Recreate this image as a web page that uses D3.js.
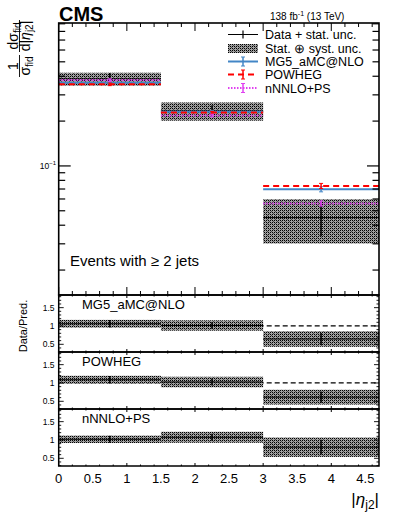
<!DOCTYPE html>
<html><head><meta charset="utf-8">
<script src="https://cdn.jsdelivr.net/npm/d3@7/dist/d3.min.js"></script>
<style>
html,body{margin:0;padding:0;background:#fff;}
text{font-family:"Liberation Sans",Arial,Helvetica,sans-serif;}
</style>
</head><body>
<script>
// ---------------- data ----------------
const binEdges = [0, 1.5, 3, 4.7];
const dataVals = [0.384, 0.234, 0.045];
const statRel = [0.095, 0.09, 0.25];
const totRel  = [0.10, 0.14, 0.33];
const mg5Vals = [0.362, 0.231, 0.0698];
const powhegVals = [0.353, 0.228, 0.0734];
const nnloVals = [0.377, 0.218, 0.056];
const theoRel = [0.02, 0.02, 0.04];
const xTickLabels = ["0","0.5","1","1.5","2","2.5","3","3.5","4","4.5"];
const ratioTickLabels = ["0.5","1","1.5"];
const predNames = ["MG5_aMC@NLO","POWHEG","nNNLO+PS"];
const legendLabels = ["Data + stat. unc.","Stat. \u2295 syst. unc.","MG5_aMC@NLO","POWHEG","nNNLO+PS"];

const W = 399, H = 518;
const svg = d3.select("body").append("svg").attr("width", W).attr("height", H);
svg.append("rect").attr("width",W).attr("height",H).attr("fill","#fff");

const defs = svg.append("defs");
const pat = defs.append("pattern").attr("id","band").attr("patternUnits","userSpaceOnUse")
  .attr("width",4).attr("height",4);
pat.append("rect").attr("width",4).attr("height",4).attr("fill","#a0a0a0");
[[0,0],[2,0],[0,2],[2,2]].forEach(p=>pat.append("rect").attr("x",p[0]).attr("y",p[1]).attr("width",1).attr("height",1).attr("fill","#000"));
[[1,1],[3,3]].forEach(p=>pat.append("rect").attr("x",p[0]).attr("y",p[1]).attr("width",1).attr("height",1).attr("fill","#4a4a4a"));

const L = 58.7, R = 379;
const x = d3.scaleLinear().domain([0, 4.7]).range([L, R]);
const mainTop = 23, mainBot = 295;
const y = d3.scaleLog().domain([0.0136, 0.911]).range([mainBot, mainTop]);
const panels = [[295,352],[352,409],[409,466]];

const colors = {mg5:"#4386c6", pow:"#ff0000", nnlo:"#e040f0"};
const preds = [
  {vals: mg5Vals, color: colors.mg5, dash: null},
  {vals: powhegVals, color: colors.pow, dash: "6,4"},
  {vals: nnloVals, color: colors.nnlo, dash: "1.5,1.5"}
];
const bins = d3.range(dataVals.length).map(i => ({lo: binEdges[i], hi: binEdges[i+1], c: (binEdges[i]+binEdges[i+1])/2}));

// ---------------- main panel ----------------
const gm = svg.append("g");
gm.selectAll("rect.band").data(bins).join("rect")
  .attr("x", d => x(d.lo)).attr("width", d => x(d.hi)-x(d.lo))
  .attr("y", (d,i) => y(dataVals[i]*(1+totRel[i])))
  .attr("height", (d,i) => y(dataVals[i]*(1-totRel[i])) - y(dataVals[i]*(1+totRel[i])))
  .attr("fill","url(#band)");
bins.forEach((b,i) => {
  gm.append("line").attr("x1",x(b.lo)).attr("x2",x(b.hi)).attr("y1",y(dataVals[i])).attr("y2",y(dataVals[i]))
    .attr("stroke","#000").attr("stroke-width",1);
  gm.append("line").attr("x1",x(b.c)).attr("x2",x(b.c))
    .attr("y1",y(dataVals[i]*(1-statRel[i]))).attr("y2",y(dataVals[i]*(1+statRel[i])))
    .attr("stroke","#000").attr("stroke-width",1.5);
});
preds.forEach(p => {
  bins.forEach((b,i) => {
    const yy = y(p.vals[i]);
    const ln = gm.append("line").attr("x1",x(b.lo)).attr("x2",x(b.hi)).attr("y1",yy).attr("y2",yy)
      .attr("stroke",p.color).attr("stroke-width",2);
    if (p.dash) ln.attr("stroke-dasharray",p.dash);
    const y1 = y(p.vals[i]*(1+theoRel[i])), y2 = y(p.vals[i]*(1-theoRel[i]));
    gm.append("line").attr("x1",x(b.c)).attr("x2",x(b.c)).attr("y1",y1).attr("y2",y2).attr("stroke",p.color).attr("stroke-width",1.5);
    gm.append("line").attr("x1",x(b.c)-2).attr("x2",x(b.c)+2).attr("y1",y1).attr("y2",y1).attr("stroke",p.color).attr("stroke-width",1);
    gm.append("line").attr("x1",x(b.c)-2).attr("x2",x(b.c)+2).attr("y1",y2).attr("y2",y2).attr("stroke",p.color).attr("stroke-width",1);
  });
});

function xTicks(g, top, bot, maj, mnr) {
  const minors = d3.range(0, 4.71, 0.2).map(v => +v.toFixed(1));
  minors.forEach(v => {
    const isMaj = Math.abs(v - Math.round(v)) < 1e-6;
    const len = isMaj ? maj : mnr;
    g.append("line").attr("x1",x(v)).attr("x2",x(v)).attr("y1",bot).attr("y2",bot-len).attr("stroke","#000").attr("stroke-width",1);
    g.append("line").attr("x1",x(v)).attr("x2",x(v)).attr("y1",top).attr("y2",top+len).attr("stroke","#000").attr("stroke-width",1);
  });
}
const mainTicks = [];
[0.02,0.03,0.04,0.05,0.06,0.07,0.08,0.09,0.1,0.2,0.3,0.4,0.5,0.6,0.7,0.8,0.9].forEach(v => {
  if (y(v) >= mainTop && y(v) <= mainBot) mainTicks.push(v);
});
mainTicks.forEach(v => {
  const len = (v === 0.1) ? 12 : 6.5;
  gm.append("line").attr("x1",L).attr("x2",L+len).attr("y1",y(v)).attr("y2",y(v)).attr("stroke","#000").attr("stroke-width",1.2);
  gm.append("line").attr("x1",R).attr("x2",R-len).attr("y1",y(v)).attr("y2",y(v)).attr("stroke","#000").attr("stroke-width",1.2);
});
xTicks(gm, mainTop, mainBot, 8, 4);
gm.append("rect").attr("x",L).attr("y",mainTop).attr("width",R-L).attr("height",mainBot-mainTop)
  .attr("fill","none").attr("stroke","#000").attr("stroke-width",1.6);
const t10 = gm.append("text").attr("x",56).attr("y",y(0.1)+3).attr("text-anchor","end").attr("font-size",8.5).attr("fill","#000");
t10.append("tspan").text("10");
t10.append("tspan").attr("dy",-3.5).attr("font-size",6).text("\u22121");

svg.append("text").attr("x",59).attr("y",21).attr("font-size",20).attr("font-weight","bold").text("CMS");
const lumi = svg.append("text").attr("x",270).attr("y",20).attr("font-size",10);
lumi.append("tspan").text("138 fb");
lumi.append("tspan").attr("dy",-4).attr("font-size",7).text("-1");
lumi.append("tspan").attr("dy",4).text(" (13 TeV)");
svg.append("text").attr("x",70).attr("y",266).attr("font-size",15).text("Events with \u2265 2 jets");

// y label (rotated fraction)
const yl = svg.append("g").attr("transform","rotate(-90)");
function frac(cy, numFn, denFn, half) {
  yl.append("line").attr("x1",-cy-half).attr("x2",-cy+half).attr("y1",19.5).attr("y2",19.5).attr("stroke","#000").attr("stroke-width",0.9);
  const n = yl.append("text").attr("x",-cy).attr("y",17.5).attr("text-anchor","middle").attr("font-size",14);
  numFn(n);
  const d = yl.append("text").attr("x",-cy).attr("y",29.5).attr("text-anchor","middle").attr("font-size",14);
  denFn(d);
}
frac(66, t => t.text("1"), t => { t.append("tspan").text("\u03c3"); t.append("tspan").attr("dy",3).attr("font-size",10).text("fid"); }, 11);
frac(36, t => { t.append("tspan").text("d\u03c3"); t.append("tspan").attr("dy",3).attr("font-size",10).text("fid"); },
         t => { t.append("tspan").text("d|"); t.append("tspan").attr("font-style","italic").text("\u03b7"); t.append("tspan").attr("dy",3).attr("font-size",10).text("j2"); t.append("tspan").attr("dy",-3).text("|"); }, 16);

// legend
const legY = [34.5, 48.5, 61.5, 74.5, 88];
const lx1 = 228, lx2 = 258, lc = 243;
const lg = svg.append("g");
legendLabels.forEach((lab,i) => {
  lg.append("text").attr("x",265).attr("y",legY[i]+4.5).attr("font-size",12.5).text(lab);
});
lg.append("line").attr("x1",lx1).attr("x2",lx2).attr("y1",legY[0]).attr("y2",legY[0]).attr("stroke","#000").attr("stroke-width",1);
lg.append("line").attr("x1",lc).attr("x2",lc).attr("y1",legY[0]-4).attr("y2",legY[0]+4).attr("stroke","#000").attr("stroke-width",1.2);
lg.append("rect").attr("x",lx1).attr("y",legY[1]-4.5).attr("width",lx2-lx1).attr("height",9).attr("fill","url(#band)");
preds.forEach((p,k) => {
  const yy = legY[2+k];
  const ln = lg.append("line").attr("x1",lx1).attr("x2",lx2).attr("y1",yy).attr("y2",yy).attr("stroke",p.color).attr("stroke-width",2);
  if (p.dash) ln.attr("stroke-dasharray",p.dash);
  lg.append("line").attr("x1",lc).attr("x2",lc).attr("y1",yy-4.5).attr("y2",yy+4.5).attr("stroke",p.color).attr("stroke-width",1.5);
  lg.append("line").attr("x1",lc-2).attr("x2",lc+2).attr("y1",yy-4.5).attr("y2",yy-4.5).attr("stroke",p.color).attr("stroke-width",1);
  lg.append("line").attr("x1",lc-2).attr("x2",lc+2).attr("y1",yy+4.5).attr("y2",yy+4.5).attr("stroke",p.color).attr("stroke-width",1);
});

// ---------------- ratio panels ----------------
preds.forEach((p,k) => {
  const [pt, pb] = panels[k];
  const ry = d3.scaleLinear().domain([0.29, 1.845]).range([pb, pt]);
  const g = svg.append("g");
  g.append("line").attr("x1",L).attr("x2",R).attr("y1",ry(1)).attr("y2",ry(1))
    .attr("stroke","#000").attr("stroke-width",1.3).attr("stroke-dasharray","5,3");
  bins.forEach((b,i) => {
    const r = dataVals[i] / p.vals[i];
    g.append("rect").attr("x",x(b.lo)).attr("width",x(b.hi)-x(b.lo))
      .attr("y",ry(r*(1+totRel[i]))).attr("height",ry(r*(1-totRel[i]))-ry(r*(1+totRel[i])))
      .attr("fill","url(#band)");
    g.append("line").attr("x1",x(b.lo)).attr("x2",x(b.hi)).attr("y1",ry(r)).attr("y2",ry(r)).attr("stroke","#000").attr("stroke-width",1);
    g.append("line").attr("x1",x(b.c)).attr("x2",x(b.c)).attr("y1",ry(r*(1-statRel[i]))).attr("y2",ry(r*(1+statRel[i])))
      .attr("stroke","#000").attr("stroke-width",1.5);
  });
  d3.range(3, 19).map(v => v/10).forEach(v => {
    const isMaj = Math.abs(v*2 - Math.round(v*2)) < 1e-6;
    const len = isMaj ? 5 : 2.5;
    g.append("line").attr("x1",L).attr("x2",L+len).attr("y1",ry(v)).attr("y2",ry(v)).attr("stroke","#000").attr("stroke-width",0.9);
    g.append("line").attr("x1",R).attr("x2",R-len).attr("y1",ry(v)).attr("y2",ry(v)).attr("stroke","#000").attr("stroke-width",0.9);
  });
  ratioTickLabels.forEach(lab => {
    g.append("text").attr("x",54.5).attr("y",ry(+lab)+3).attr("text-anchor","end").attr("font-size",8.5).text(lab);
  });
  xTicks(g, pt, pb, 3, 1.5);
  g.append("rect").attr("x",L).attr("y",pt).attr("width",R-L).attr("height",pb-pt)
    .attr("fill","none").attr("stroke","#000").attr("stroke-width",1.5);
  g.append("text").attr("x",82).attr("y",pt+14).attr("font-size",13).text(predNames[k]);
});

svg.append("text").attr("transform","translate(26.5,326) rotate(-90)").attr("text-anchor","middle")
  .attr("font-size",11).text("Data/Pred.");

xTickLabels.forEach(lab => {
  svg.append("text").attr("x",x(+lab)).attr("y",483).attr("text-anchor","middle").attr("font-size",13).text(lab);
});
const xt = svg.append("text").attr("x",379).attr("y",505).attr("text-anchor","end").attr("font-size",17);
xt.append("tspan").text("|");
xt.append("tspan").attr("font-style","italic").text("\u03b7");
xt.append("tspan").attr("dy",4).attr("font-size",12).text("j2");
xt.append("tspan").attr("dy",-4).text("|");
</script>
</body></html>
